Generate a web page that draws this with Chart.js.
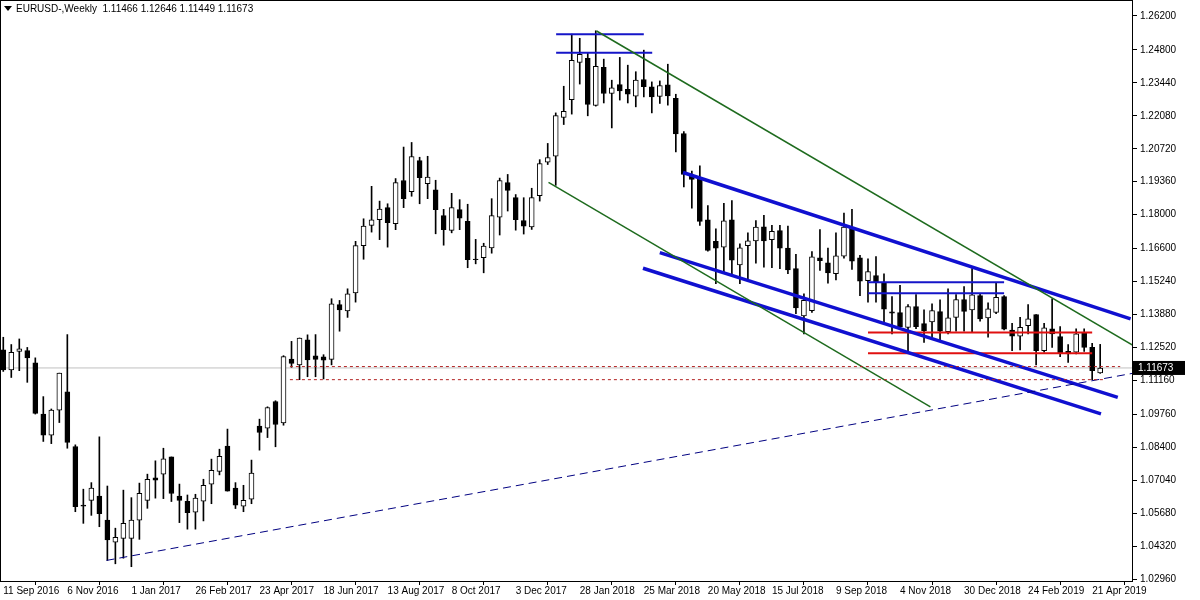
<!DOCTYPE html>
<html><head><meta charset="utf-8">
<script src="https://cdn.jsdelivr.net/npm/chart.js@4.4.1/dist/chart.umd.min.js"></script>
<style>html,body{margin:0;padding:0;background:#fff}#wrap{width:1200px;height:600px}</style>
</head><body><div id="wrap"><canvas id="c"></canvas></div>
<script>
const opens=[1.1242,1.1159,1.1236,1.1239,1.1188,1.0977,1.0890,1.0993,1.1069,1.0843,
1.0601,1.0621,1.0639,1.0539,1.0448,1.0464,1.0464,1.0539,1.0621,1.0714,
1.0729,1.0800,1.0639,1.0617,1.0572,1.0617,1.0688,1.0740,1.0845,1.0671,
1.0597,1.0626,1.0927,1.0919,1.1029,1.0940,1.1204,1.1180,1.1283,1.1217,
1.1213,1.1203,1.1429,1.1403,1.1477,1.1672,1.1756,1.1779,1.1829,1.1763,
1.1941,1.1895,1.2023,1.1928,1.1903,1.1796,1.1735,1.1821,1.1772,1.1617,
1.1622,1.1663,1.1790,1.1932,1.1870,1.1776,1.1749,1.1878,1.2017,1.2041,
1.2201,1.2275,1.2428,1.2445,1.2251,1.2408,1.2300,1.2337,1.2317,1.2289,
1.2358,1.2328,1.2288,1.2336,1.2280,1.2135,1.1961,1.1953,1.1779,1.1690,
1.1666,1.1779,1.1593,1.1672,1.1692,1.1750,1.1697,1.1734,1.1662,1.1577,
1.1382,1.1404,1.1622,1.1601,1.1556,1.1629,1.1749,1.1622,1.1528,1.1549,
1.1517,1.1399,1.1396,1.1335,1.1421,1.1350,1.1357,1.1400,1.1317,1.1376,
1.1450,1.1407,1.1466,1.1374,1.1397,1.1462,1.1324,1.1298,1.1342,1.1388,
1.1239,1.1329,1.1297,1.1236,1.1232,1.1313,1.1252,1.11466];
const closes=[1.1159,1.1232,1.1246,1.1209,1.0980,1.0890,1.0993,1.1146,1.0860,1.0595,
1.0597,1.0671,1.0566,1.0458,1.0468,1.0526,1.0539,1.0650,1.0708,1.0704,
1.0792,1.0649,1.0621,1.0570,1.0630,1.0683,1.0745,1.0803,1.0659,1.0601,
1.0621,1.0733,1.0901,1.1004,1.0934,1.1214,1.1186,1.1291,1.1200,1.1203,
1.1199,1.1432,1.1407,1.1473,1.1672,1.1753,1.1779,1.1823,1.1767,1.1932,
1.1866,1.2040,1.1953,1.1955,1.1821,1.1738,1.1829,1.1786,1.1614,1.1614,
1.1670,1.1796,1.1941,1.1900,1.1779,1.1753,1.1870,1.2011,1.2036,1.2209,
1.2227,1.2437,1.2462,1.2255,1.2412,1.2300,1.2323,1.2311,1.2297,1.2355,
1.2328,1.2286,1.2333,1.2290,1.2133,1.1966,1.1945,1.1772,1.1652,1.1662,
1.1775,1.1612,1.1663,1.1692,1.1749,1.1692,1.1731,1.1662,1.1572,1.1415,
1.1446,1.1626,1.1610,1.1560,1.1630,1.1749,1.1608,1.1525,1.1565,1.1521,
1.1410,1.1393,1.1338,1.1421,1.1338,1.1321,1.1404,1.1319,1.1374,1.1450,
1.1401,1.1469,1.1370,1.1411,1.1459,1.1327,1.1298,1.1335,1.1370,1.1239,
1.1333,1.1308,1.1229,1.1225,1.1308,1.1252,1.1156,1.11673];
const highs=[1.1294,1.1264,1.1287,1.1252,1.1209,1.1049,1.0998,1.1146,1.1305,1.0850,
1.0667,1.0694,1.0883,1.0680,1.0506,1.0663,1.0632,1.0692,1.0729,1.0784,
1.0836,1.0800,1.0688,1.0643,1.0646,1.0708,1.0791,1.0832,1.0915,1.0694,
1.0683,1.0787,1.0956,1.1007,1.1032,1.1218,1.1277,1.1291,1.1304,1.1305,
1.1222,1.1453,1.1446,1.1494,1.1690,1.1783,1.1917,1.1856,1.1845,1.1949,
1.2079,1.2098,1.2037,1.2041,1.1942,1.1822,1.1888,1.1862,1.1843,1.1698,
1.1682,1.1866,1.1951,1.1966,1.1883,1.1870,1.1909,1.2027,1.2094,1.2220,
1.2330,1.2545,1.2528,1.2468,1.2559,1.2442,1.2355,1.2449,1.2417,1.2390,
1.2479,1.2348,1.2352,1.2421,1.2297,1.2143,1.1980,1.2002,1.1838,1.1742,
1.1847,1.1858,1.1680,1.1725,1.1776,1.1797,1.1756,1.1756,1.1753,1.1636,
1.1473,1.1648,1.1738,1.1662,1.1725,1.1807,1.1822,1.1632,1.1618,1.1627,
1.1556,1.1462,1.1508,1.1429,1.1470,1.1407,1.1432,1.1448,1.1494,1.1470,
1.1503,1.1577,1.1473,1.1436,1.1517,1.1466,1.1352,1.1376,1.1429,1.1388,
1.1352,1.1453,1.1338,1.1264,1.1329,1.1329,1.1269,1.12646];
const lows=[1.1153,1.1128,1.1156,1.1108,1.0977,1.0864,1.0855,1.0942,1.0836,1.0574,
1.0526,1.0559,1.0512,1.0373,1.0359,1.0382,1.0347,1.0460,1.0588,1.0630,
1.0628,1.0616,1.0529,1.0502,1.0502,1.0536,1.0607,1.0726,1.0659,1.0587,
1.0574,1.0607,1.0828,1.0880,1.0842,1.0931,1.1170,1.1119,1.1131,1.1131,
1.1122,1.1180,1.1319,1.1376,1.1439,1.1616,1.1728,1.1697,1.1666,1.1738,
1.1829,1.1876,1.1845,1.1866,1.1721,1.1674,1.1725,1.1738,1.1581,1.1597,
1.1560,1.1641,1.1716,1.1815,1.1736,1.1720,1.1739,1.1856,1.2007,1.1921,
1.2172,1.2215,1.2339,1.2208,1.2248,1.2261,1.2158,1.2273,1.2261,1.2245,
1.2286,1.2220,1.2259,1.2252,1.2059,1.1914,1.1827,1.1756,1.1649,1.1515,
1.1556,1.1556,1.1515,1.1528,1.1600,1.1583,1.1581,1.1577,1.1556,1.1391,
1.1308,1.1397,1.1570,1.1517,1.1531,1.1620,1.1574,1.1466,1.1439,1.1439,
1.1356,1.1308,1.1335,1.1229,1.1329,1.1273,1.1287,1.1280,1.1308,1.1319,
1.1319,1.1317,1.1360,1.1294,1.1391,1.1324,1.1239,1.1242,1.1308,1.1180,
1.1232,1.1252,1.1214,1.1190,1.1225,1.1236,1.1119,1.11449];
const xTickLabels=["11 Sep 2016","6 Nov 2016","1 Jan 2017","26 Feb 2017","23 Apr 2017","18 Jun 2017","13 Aug 2017","8 Oct 2017","3 Dec 2017","28 Jan 2018","25 Mar 2018","20 May 2018","15 Jul 2018","9 Sep 2018","4 Nov 2018","30 Dec 2018","24 Feb 2019","21 Apr 2019"];
const yTicks=[1.26200,1.24800,1.23440,1.22080,1.20720,1.19360,1.18000,1.16600,1.15240,1.13880,1.12520,1.11160,1.09760,1.08400,1.07040,1.05680,1.04320,1.02960];
// drawn objects: [x0 index, price0, x1 index, price1]
const greenLines=[[74.1,1.2558,143.3,1.1218],[68.1,1.1933,115.8,1.1007]];
const blueChannel=[[84.9,1.1974,140.8,1.1370],[82.0,1.1643,139.2,1.1046],[79.9,1.1579,137.1,1.0978]];
const blueLevels=[[69.05,1.2545,80.0,1.2545],[69.05,1.2468,81.05,1.2468],[108.0,1.1521,125.0,1.1521],[108.0,1.1476,125.0,1.1476]];
const redLevels=[[108.0,1.1314,136.0,1.1314],[108.0,1.1228,136.0,1.1228]];
const redDashed=[[35.8,1.1173,139.5,1.1173],[35.8,1.1119,137.7,1.1119]];
const navyDashed=[[12.9,1.0373,141.2,1.1146]];
const header="EURUSD-,Weekly  1.11466 1.12646 1.11449 1.11673";

const FONT='"Liberation Sans", Arial';
const idx=opens.map((_,i)=>i);
const seg=(arr,color,w,dash)=>arr.map(s=>({type:'line',data:[{x:s[0],y:s[1]},{x:s[2],y:s[3]}],borderColor:color,borderWidth:w,borderDash:dash||[],pointRadius:0,fill:false,order:0}));
const datasets=[
 {type:'line',data:[{x:-1,y:closes[closes.length-1]},{x:150,y:closes[closes.length-1]}],borderColor:'#c0c0c0',borderWidth:1,pointRadius:0,order:5},
 ...seg(redDashed,'#b22222',1,[3,3]),
 ...seg(navyDashed,'#000080',1,[8,5]),
 {type:'bar',grouped:false,data:idx.map(i=>({x:i,y:[lows[i],highs[i]]})),backgroundColor:'#000',barThickness:1,order:3},
 {type:'bar',grouped:false,data:idx.map(i=>({x:i,y:[opens[i],closes[i]===opens[i]?closes[i]-0.00005:closes[i]]})),
  backgroundColor:idx.map(i=>closes[i]>opens[i]?'#fff':'#000'),borderColor:'#000',borderWidth:1,borderSkipped:false,barThickness:5,order:2},
 ...seg(greenLines,'#1e6b1e',1.5),
 ...seg(blueChannel,'#1010d0',3.5),
 ...seg(blueLevels,'#1515c8',2),
 ...seg(redLevels,'#e01010',2)
];
const deco={id:'deco',afterDraw(ch){const c=ch.ctx,a=ch.chartArea;c.save();
 c.strokeStyle='#000';c.lineWidth=1;c.strokeRect(a.left+0.5,a.top+0.5,a.right-a.left-1,a.bottom-a.top);
 c.fillStyle='#000';c.beginPath();c.moveTo(4,6);c.lineTo(12,6);c.lineTo(8,11);c.closePath();c.fill();
 c.font='10px '+FONT;c.textBaseline='middle';c.textAlign='left';c.fillText(header,16,9);
 const y=ch.scales.y.getPixelForValue(closes[closes.length-1]);
 c.fillStyle='#000';c.fillRect(a.right,y-7,52,14);c.fillStyle='#fff';c.fillText(closes[closes.length-1].toFixed(5),a.right+5,y+0.5);
 c.restore();}};
new Chart(document.getElementById('c'),{type:'bar',data:{datasets},plugins:[deco],
 options:{responsive:true,maintainAspectRatio:false,animation:false,layout:{padding:0},
 plugins:{legend:{display:false},tooltip:{enabled:false}},
 scales:{
  x:{type:'linear',min:-0.41,max:141.1,offset:false,grid:{display:true,drawOnChartArea:false,tickLength:4,color:'#000'},border:{display:false},
   afterBuildTicks:ax=>{ax.ticks=xTickLabels.map((_,i)=>({value:i*8}));},
   afterFit:ax=>{ax.height=19;ax.paddingLeft=0;ax.paddingRight=0;},
   ticks:{autoSkip:false,maxRotation:0,align:'start',padding:0,color:'#000',font:{family:FONT,size:10},callback:(v,i)=>xTickLabels[i]}},
  y:{position:'right',min:1.0288,max:1.2686,grid:{display:true,drawOnChartArea:false,tickLength:4,color:'#000'},border:{display:false},
   afterBuildTicks:ax=>{ax.ticks=yTicks.map(v=>({value:v}));},
   afterFit:ax=>{ax.width=67;ax.paddingTop=0;ax.paddingBottom=0;},
   ticks:{autoSkip:false,padding:3,color:'#000',font:{family:FONT,size:10},callback:v=>v.toFixed(5)}}
 }}});
</script></body></html>
